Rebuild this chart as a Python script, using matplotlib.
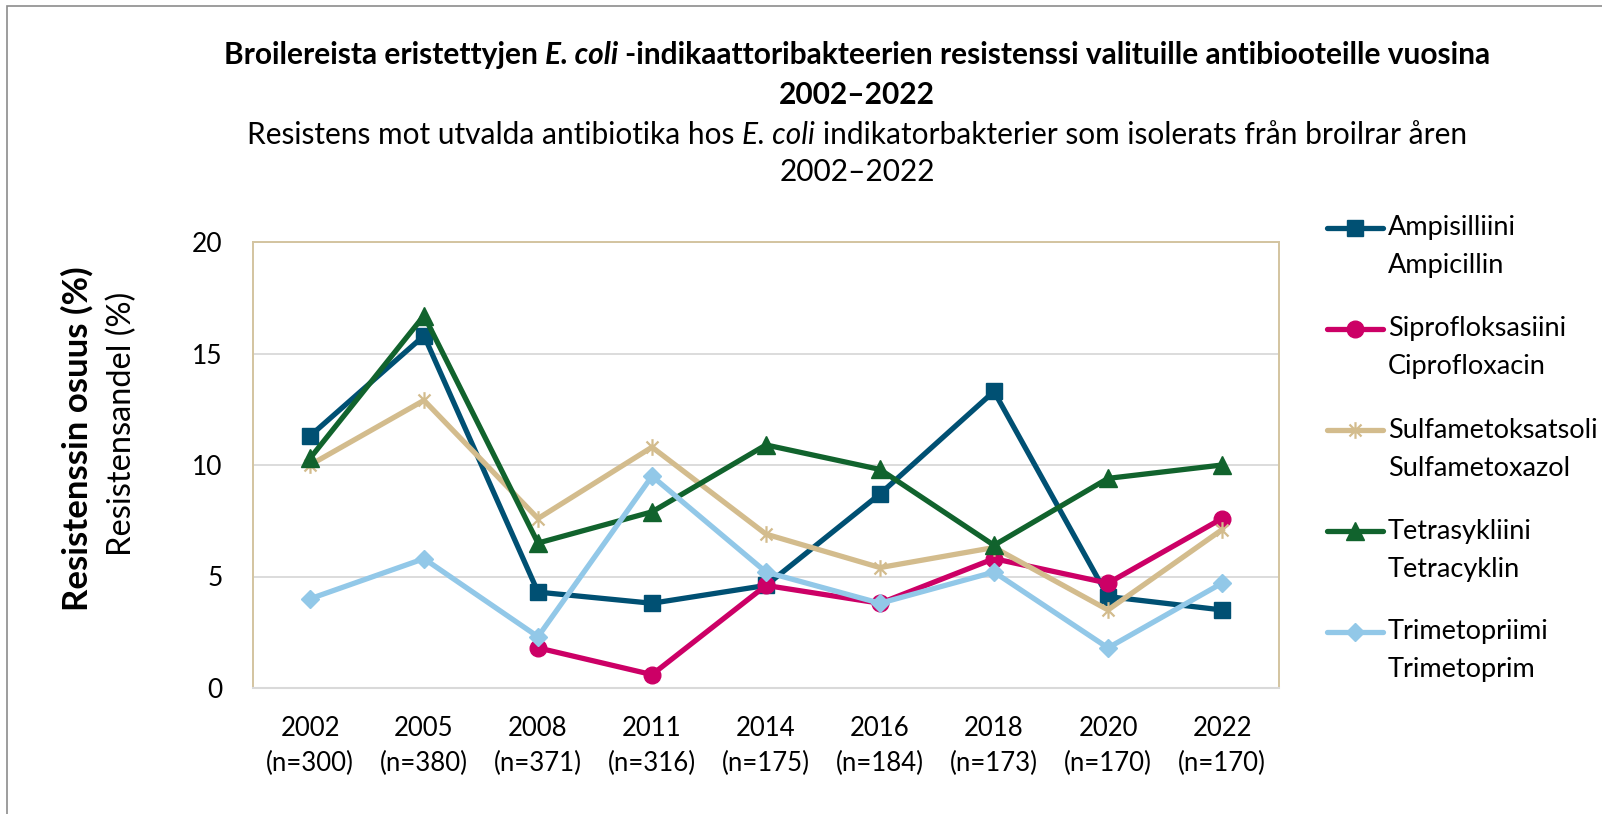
import numpy as np
import matplotlib
matplotlib.use("Agg")
import matplotlib.pyplot as plt
from matplotlib.path import Path
from matplotlib.patches import Rectangle
from matplotlib.lines import Line2D

plt.rcParams['font.family'] = ['Lato', 'DejaVu Sans']

# data
years = ["2002\n(n=300)", "2005\n(n=380)", "2008\n(n=371)", "2011\n(n=316)", "2014\n(n=175)",
         "2016\n(n=184)", "2018\n(n=173)", "2020\n(n=170)", "2022\n(n=170)"]
ampisilliini = [11.3, 15.8, 4.3, 3.8, 4.6, 8.7, 13.3, 4.1, 3.5]
siprofloksasiini = [np.nan, np.nan, 1.8, 0.6, 4.6, 3.8, 5.8, 4.7, 7.6]
sulfametoksatsoli = [10.0, 12.9, 7.6, 10.8, 6.9, 5.4, 6.3, 3.5, 7.1]
tetrasykliini = [10.3, 16.7, 6.5, 7.9, 10.9, 9.8, 6.4, 9.4, 10.0]
trimetopriimi = [4.0, 5.8, 2.3, 9.5, 5.2, 3.8, 5.2, 1.8, 4.7]
names_fi = ["Ampisilliini", "Siprofloksasiini", "Sulfametoksatsoli", "Tetrasykliini",
            "Trimetopriimi"]
names_sv = ["Ampicillin", "Ciprofloxacin", "Sulfametoxazol", "Tetracyklin", "Trimetoprim"]

# excel style asterisk: vertical bar plus an X
star = Path([(0, -1), (0, 1), (-0.72, -0.72), (0.72, 0.72), (-0.72, 0.72), (0.72, -0.72)],
            [Path.MOVETO, Path.LINETO] * 3)

W, H = 1602, 814
fig = plt.figure(figsize=(W / 100, H / 100), dpi=100)
ax = fig.add_axes([253 / W, 1 - 688 / H, (1279 - 253) / W, (688 - 242) / H])

x = np.arange(len(years))
lw = 3.8
lines = []
lines += ax.plot(x, ampisilliini, color="#005073", lw=lw, marker="s", ms=11.5)
lines += ax.plot(x, siprofloksasiini, color="#cc0066", lw=lw, marker="o", ms=12)
lines += ax.plot(x, sulfametoksatsoli, color="#d3bc8d", lw=lw, marker=star, ms=12, mew=1.6)
lines += ax.plot(x, tetrasykliini, color="#11632d", lw=lw, marker="^", ms=13)
lines += ax.plot(x, trimetopriimi, color="#92c8e8", lw=lw, marker="D", ms=9.5)

ax.set_xlim(-0.5, len(years) - 0.5)
ax.set_ylim(0, 20)
ax.set_yticks([0, 5, 10, 15, 20])
ax.set_xticks(x)
ax.set_xticklabels(years, fontsize=18.5, linespacing=1.5)
ax.tick_params(axis="y", length=0, pad=22, labelsize=19)
ax.tick_params(axis="x", length=0, pad=20)
ax.grid(axis="y", color="#d9d9d9", lw=1.3)
ax.set_axisbelow(True)
for s in ["left", "top", "right"]:
    ax.spines[s].set_color("#d3c4a0")
    ax.spines[s].set_linewidth(1.4)
ax.spines["bottom"].set_color("#d9d9d9")
ax.spines["bottom"].set_linewidth(1.5)

# legend, drawn by hand so the key sits on the first of two lines
for i, ln in enumerate(lines):
    yc = 1 - (228 + 101 * i) / H
    key = Line2D([1327 / W, 1383 / W], [yc, yc], transform=fig.transFigure,
                 color=ln.get_color(), lw=lw, solid_capstyle="round")
    fig.add_artist(key)
    fig.add_artist(Line2D([1355 / W], [yc], transform=fig.transFigure, ls="none",
                          marker=ln.get_marker(), ms=ln.get_markersize(),
                          mew=ln.get_markeredgewidth(), color=ln.get_color()))
    fig.text(1388 / W, yc, names_fi[i], fontsize=19.5, va="center")
    fig.text(1388 / W, yc - 38 / H, names_sv[i], fontsize=19.5, va="center")

# y labels
fig.text(77 / W, 1 - 439 / H, "Resistenssin osuus (%)", rotation=90, fontsize=25,
         fontweight="bold", ha="center", va="center")
fig.text(122 / W, 1 - 424 / H, "Resistensandel (%)", rotation=90, fontsize=23.5,
         ha="center", va="center")

# outer frame
fig.patches.append(Rectangle((7 / W, -0.05), 1.1, 1 - 6 / H + 0.05, transform=fig.transFigure,
                             fill=False, edgecolor="#8c8c8c", lw=1.2))

renderer = fig.canvas.get_renderer()


def rich_line(cx, cy, parts, size):
    # parts: (text, weight, style); draws them side by side centred on cx
    items = []
    total = 0
    for s, wt, st in parts:
        if s == " ":
            a = fig.text(0, 0, "a a", fontsize=size, fontweight=wt, fontstyle=st)
            b = fig.text(0, 0, "aa", fontsize=size, fontweight=wt, fontstyle=st)
            w = a.get_window_extent(renderer).width - b.get_window_extent(renderer).width
            a.remove()
            b.remove()
            items.append((None, w))
        else:
            t = fig.text(0, cy / H, s, fontsize=size, fontweight=wt, fontstyle=st, va="center")
            w = t.get_window_extent(renderer).width
            items.append((t, w))
        total += w
    pos = cx - total / 2
    for t, w in items:
        if t is not None:
            t.set_x(pos / W)
        pos += w


rich_line(857, H - 55, [("Broilereista eristettyjen", "bold", "normal"), (" ", "bold", "normal"),
                        ("E. coli", "bold", "italic"), (" ", "bold", "normal"),
                        ("-indikaattoribakteerien resistenssi valituille antibiooteille vuosina",
                         "bold", "normal")], 21.5)
rich_line(857, H - 95, [("2002–2022", "bold", "normal")], 21.5)
rich_line(857, H - 135, [("Resistens mot utvalda antibiotika hos", "normal", "normal"),
                         (" ", "normal", "normal"), ("E. coli", "normal", "italic"),
                         (" ", "normal", "normal"),
                         ("indikatorbakterier som isolerats från broilrar åren", "normal", "normal")],
          21.5)
rich_line(857, H - 172, [("2002–2022", "normal", "normal")], 21.5)

fig.savefig("out.png", dpi=100)
